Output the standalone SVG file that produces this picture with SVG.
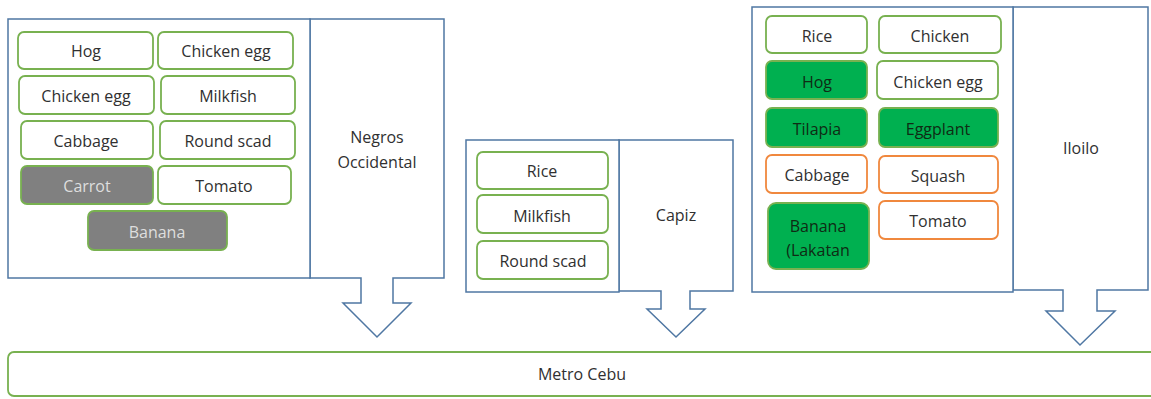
<svg xmlns="http://www.w3.org/2000/svg" width="1151" height="399" viewBox="0 0 1151 399">
  <style>
    .frame { fill: #ffffff; stroke: #4f77a3; stroke-width: 1.5; }
    .item { fill: #ffffff; stroke: #78b150; stroke-width: 1.8; }
    .item.grey { fill: #808080; }
    .item.green { fill: #00b050; }
    .item.orange { stroke: #f0883e; }
    text { font-family: "Open Sans", "Noto Sans", sans-serif; font-size: 16px; fill: #303030; text-anchor: middle; dominant-baseline: central; }
    .light { fill: #dedede; }
    .dark { fill: #0f2b14; }
  </style>

  <!-- region callouts with downward arrows -->
  <g id="connectors">
    <path class="frame" d="M310,19 H444 V278 H393 V303 H411 L377,337 L343,303 H361 V278 H310 Z"/>
    <path class="frame" d="M619,140 H733 V291 H690 V309 H705 L676,337 L647,309 H661 V291 H619 Z"/>
    <path class="frame" d="M1013,7 H1148 V290 H1097 V311 H1115 L1080,345 L1046,311 H1063 V290 H1013 Z"/>
  </g>

  <g id="negros-occidental">
    <rect class="frame" x="8" y="19" width="302" height="259"/>
    <text x="377" y="137">Negros</text>
    <text x="377" y="162">Occidental</text>
    <g id="negros-hog"><rect class="item" x="18" y="32" width="135" height="37" rx="6"/><text x="86" y="51">Hog</text></g>
    <g id="negros-chicken-egg-1"><rect class="item" x="158" y="32" width="135" height="37" rx="6"/><text x="226" y="51">Chicken egg</text></g>
    <g id="negros-chicken-egg-2"><rect class="item" x="19" y="76" width="135" height="38" rx="6"/><text x="86" y="96">Chicken egg</text></g>
    <g id="negros-milkfish"><rect class="item" x="161" y="76" width="134" height="38" rx="6"/><text x="228" y="96">Milkfish</text></g>
    <g id="negros-cabbage"><rect class="item" x="21" y="121" width="132" height="38" rx="6"/><text x="86" y="141">Cabbage</text></g>
    <g id="negros-round-scad"><rect class="item" x="160" y="121" width="135" height="38" rx="6"/><text x="228" y="141">Round scad</text></g>
    <g id="negros-carrot"><rect class="item grey" x="21" y="166" width="132" height="38" rx="6"/><text class="light" x="87" y="186">Carrot</text></g>
    <g id="negros-tomato"><rect class="item" x="158" y="166" width="133" height="38" rx="6"/><text x="224" y="186">Tomato</text></g>
    <g id="negros-banana"><rect class="item grey" x="88" y="211" width="139" height="39" rx="6"/><text class="light" x="157" y="232">Banana</text></g>
  </g>

  <g id="capiz">
    <rect class="frame" x="466" y="140" width="153" height="152"/>
    <text x="676" y="215">Capiz</text>
    <g id="capiz-rice"><rect class="item" x="477" y="152" width="131" height="37" rx="6"/><text x="542" y="171">Rice</text></g>
    <g id="capiz-milkfish"><rect class="item" x="477" y="195" width="131" height="38" rx="6"/><text x="542" y="216">Milkfish</text></g>
    <g id="capiz-round-scad"><rect class="item" x="477" y="241" width="131" height="38" rx="6"/><text x="543" y="261">Round scad</text></g>
  </g>

  <g id="iloilo">
    <rect class="frame" x="752" y="7" width="261" height="285"/>
    <text x="1081" y="148">Iloilo</text>
    <g id="iloilo-rice"><rect class="item" x="766" y="16" width="101" height="37" rx="6"/><text x="817" y="36">Rice</text></g>
    <g id="iloilo-chicken"><rect class="item" x="879" y="16" width="122" height="37" rx="6"/><text x="940" y="36">Chicken</text></g>
    <g id="iloilo-hog"><rect class="item green" x="766" y="61" width="101" height="38" rx="6"/><text class="dark" x="817" y="82">Hog</text></g>
    <g id="iloilo-chicken-egg"><rect class="item" x="877" y="61" width="121" height="38" rx="6"/><text x="938" y="82">Chicken egg</text></g>
    <g id="iloilo-tilapia"><rect class="item green" x="766" y="108" width="101" height="39" rx="6"/><text class="dark" x="817" y="129">Tilapia</text></g>
    <g id="iloilo-eggplant"><rect class="item green" x="879" y="108" width="119" height="39" rx="6"/><text class="dark" x="938" y="129">Eggplant</text></g>
    <g id="iloilo-cabbage"><rect class="item orange" x="766" y="155" width="101" height="38" rx="6"/><text x="817" y="175">Cabbage</text></g>
    <g id="iloilo-squash"><rect class="item orange" x="879" y="156" width="119" height="37" rx="6"/><text x="938" y="176">Squash</text></g>
    <g id="iloilo-banana"><rect class="item green" x="768" y="203" width="101" height="66" rx="8"/><text class="dark" x="818" y="226">Banana</text><text class="dark" x="818" y="250">(Lakatan</text></g>
    <g id="iloilo-tomato"><rect class="item orange" x="879" y="201" width="119" height="38" rx="6"/><text x="938" y="221">Tomato</text></g>
  </g>

  <g id="metro-cebu">
    <rect class="item" x="8" y="352" width="1160" height="44" rx="6"/>
    <text x="582" y="374">Metro Cebu</text>
  </g>
</svg>
